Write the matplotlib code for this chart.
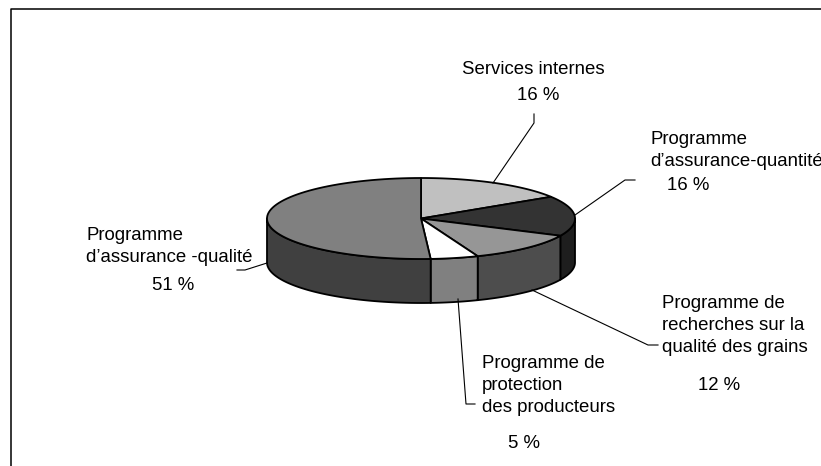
import matplotlib
matplotlib.use("Agg")
import matplotlib.pyplot as plt
import numpy as np

plt.rcParams['font.family'] = ['Liberation Sans', 'DejaVu Sans']

# clockwise from the top of the pie
names = ["Services internes", "Programme d'assurance-quantité",
         "Programme de recherches sur la qualité des grains",
         "Programme de protection des producteurs",
         "Programme d'assurance -qualité"]
values = [16, 16, 12, 5, 51]
top_colors = ["#c0c0c0", "#333333", "#969696", "#ffffff", "#808080"]
side_colors = ["#a0a0a0", "#1e1e1e", "#4d4d4d", "#808080", "#404040"]

cx, cy = 421, 218.5
rx, ry = 154, 40.5
depth = 44

fig = plt.figure(figsize=(8.21, 4.66), dpi=100)
ax = fig.add_axes([0, 0, 1, 1])
ax.set_xlim(0, 821)
ax.set_ylim(466, 0)
ax.axis("off")


def rim(a0, a1):
    t = np.radians(np.linspace(a0, a1, 80))
    return cx + rx * np.sin(t), cy - ry * np.cos(t)


angles = np.concatenate([[0], np.cumsum(values)]) * 3.6

# side wall, only the front half shows
for i in range(len(values)):
    a0 = max(angles[i], 90)
    a1 = min(angles[i + 1], 270)
    if a1 > a0:
        x, y = rim(a0, a1)
        ax.fill(np.r_[x, x[::-1]], np.r_[y, y[::-1] + depth],
                fc=side_colors[i], ec="black", lw=1.3, joinstyle="round")

for i in range(len(values)):
    x, y = rim(angles[i], angles[i + 1])
    ax.fill(np.r_[cx, x], np.r_[cy, y], fc=top_colors[i], ec="black",
            lw=1.3, joinstyle="round")

# leader lines
leaders = [
    ([493, 534, 534], [183, 123, 114]),
    ([575, 625, 635], [215, 180, 180]),
    ([532, 648, 658], [290, 345, 345]),
    ([458, 466, 475], [299, 404, 404]),
    ([267, 245, 237], [263, 270, 270]),
]
for lx, ly in leaders:
    ax.plot(lx, ly, color="black", lw=0.8)

# frame
ax.plot([10.5, 10.5, 821], [466, 8.5, 8.5], color="black", lw=1.1)

fs = 13.4
labels = [
    (462, 69, "Services internes"),
    (517, 95, "16 %"),
    (650, 139, "Programme"),
    (650, 162, "d’assurance-quantité"),
    (667, 186, "16 %"),
    (662, 304, "Programme de"),
    (662, 326, "recherches sur la"),
    (662, 348, "qualité des grains"),
    (698, 385, "12 %"),
    (482, 363, "Programme de"),
    (482, 385, "protection"),
    (482, 407, "des producteurs"),
    (508, 444, "5 %"),
    (86, 236, "Programme"),
    (86, 258, "d’assurance -qualité"),
    (152, 285, "51 %"),
]
for tx, ty, s in labels:
    ax.text(tx, ty, s, fontsize=fs, ha="left", va="center", color="black")

fig.savefig("out.png", dpi=100)
